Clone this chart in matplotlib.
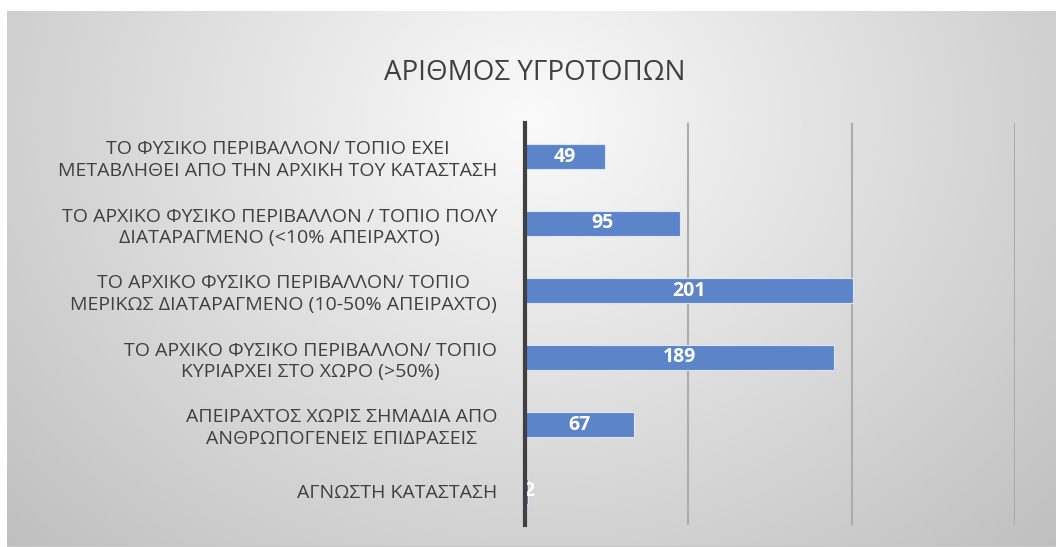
import numpy as np
import matplotlib
matplotlib.use("Agg")
import matplotlib.pyplot as plt

plt.rcParams['font.family'] = ['Open Sans', 'DejaVu Sans']

# Data (top to bottom)
categories = [
    "ΤΟ ΦΥΣΙΚΟ ΠΕΡΙΒΑΛΛΟΝ/ ΤΟΠΙΟ ΕΧΕΙ\nΜΕΤΑΒΛΗΘΕΙ ΑΠΟ ΤΗΝ ΑΡΧΙΚΗ ΤΟΥ ΚΑΤΑΣΤΑΣΗ",
    "ΤΟ ΑΡΧΙΚΟ ΦΥΣΙΚΟ ΠΕΡΙΒΑΛΛΟΝ / ΤΟΠΙΟ ΠΟΛΥ\nΔΙΑΤΑΡΑΓΜΕΝΟ (<10% ΑΠΕΙΡΑΧΤΟ)",
    "ΤΟ ΑΡΧΙΚΟ ΦΥΣΙΚΟ ΠΕΡΙΒΑΛΛΟΝ/ ΤΟΠΙΟ\nΜΕΡΙΚΩΣ ΔΙΑΤΑΡΑΓΜΕΝΟ (10-50% ΑΠΕΙΡΑΧΤΟ)",
    "ΤΟ ΑΡΧΙΚΟ ΦΥΣΙΚΟ ΠΕΡΙΒΑΛΛΟΝ/ ΤΟΠΙΟ\nΚΥΡΙΑΡΧΕΙ ΣΤΟ ΧΩΡΟ (>50%)",
    "ΑΠΕΙΡΑΧΤΟΣ ΧΩΡΙΣ ΣΗΜΑΔΙΑ ΑΠΟ\nΑΝΘΡΩΠΟΓΕΝΕΙΣ ΕΠΙΔΡΑΣΕΙΣ",
    "ΑΓΝΩΣΤΗ ΚΑΤΑΣΤΑΣΗ",
]
counts = [49, 95, 201, 189, 67, 2]
title = "ΑΡΙΘΜΟΣ ΥΓΡΟΤΟΠΩΝ"

W, H = 1056, 547
fig = plt.figure(figsize=(W / 100, H / 100), dpi=100)
fig.patch.set_facecolor('white')

# radial grey gradient background (chart area)
bg = fig.add_axes([7 / W, 0, 1 - 7 / W, 1 - 11 / H], zorder=0)
gx, gy = np.meshgrid(np.linspace(0, 1, 400), np.linspace(0, 1, 220))
d = np.sqrt(((gx - 0.5) / 0.6) ** 2 + ((gy - 0.2) / 1.0) ** 2)
shade = 0.98 - 0.24 * np.clip(d, 0, 1.2) / 1.2
bg.imshow(shade, cmap='gray', vmin=0, vmax=1, aspect='auto',
          extent=[0, 1, 1, 0], interpolation='bicubic')
bg.axhline(1.0, color='#c8c8c8', lw=1.5)
bg.set_xlim(0, 1)
bg.set_ylim(1, 0)
bg.axis('off')

ax = fig.add_axes([525 / W, 1 - 525 / H, (1015 - 525) / W, (525 - 123) / H], zorder=1)
ax.patch.set_alpha(0)

y = np.arange(len(categories))
ax.barh(y, counts, height=0.37, color='#5b84c9', edgecolor='#dce6f4', linewidth=0.8, zorder=3)
ax.set_ylim(len(categories) - 0.5, -0.5)
ax.set_xlim(0, 300)

for yi, v in zip(y, counts):
    ax.text(max(v / 2, 2.2), yi, str(v), ha='center', va='center', color='white',
            fontsize=14, fontweight='bold', zorder=4)

ax.set_xticks([100, 200, 300])
ax.xaxis.grid(True, color='#acacac', lw=1.5, zorder=1)
ax.tick_params(axis='x', length=0, labelbottom=False)
ax.set_yticks(y)
ax.set_yticklabels(categories, fontsize=14, color='#404040', multialignment='center',
                   linespacing=1.25)
ax.tick_params(axis='y', length=0, pad=20)
for s in ['top', 'right', 'bottom']:
    ax.spines[s].set_visible(False)
ax.spines['left'].set_color('#404040')
ax.spines['left'].set_linewidth(3)
ax.spines['left'].set_zorder(5)

fig.text(535 / W, 1 - 73 / H, title, ha='center', va='center', fontsize=20, color='#404040')

fig.savefig('out.png', dpi=100)
